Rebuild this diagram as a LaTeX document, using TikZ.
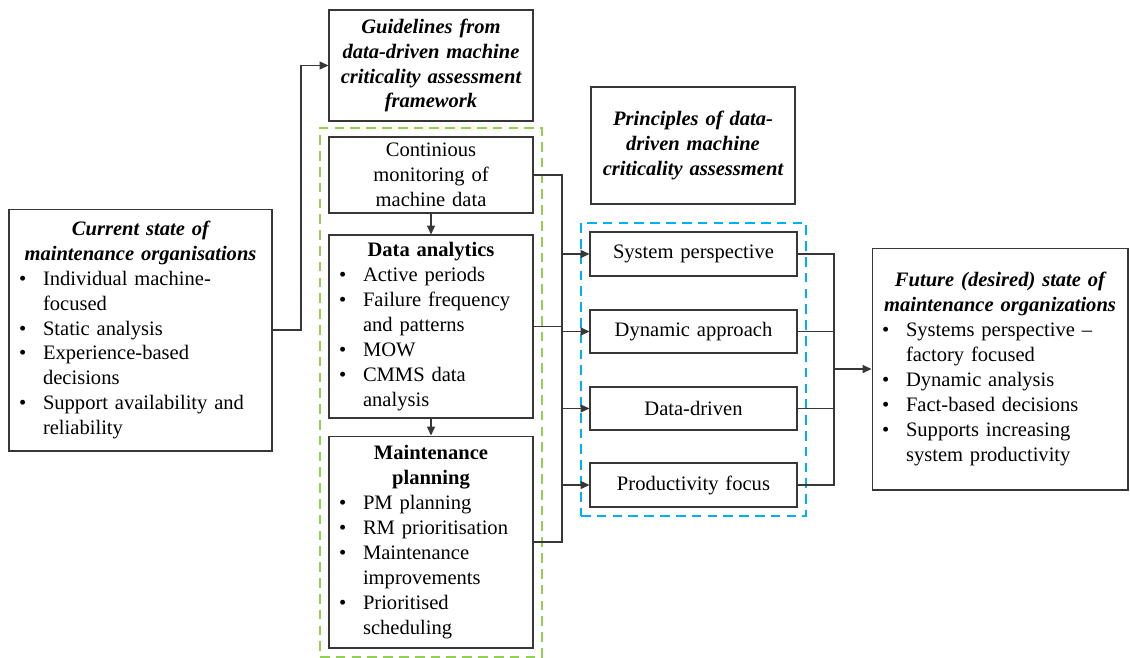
\documentclass[tikz,border=0pt]{standalone}
\usepackage{fontspec}
\setmainfont{Liberation Serif}
\usetikzlibrary{arrows.meta, positioning, fit}
\definecolor{leafgreen}{RGB}{146, 208, 80}
\definecolor{skyblue1}{RGB}{0, 176, 240}
\definecolor{edgegray}{RGB}{55, 55, 55}
\newcommand{\boxfont}{\fontsize{11.7}{14.2}\selectfont}
\newcommand{\bul}[1]{\par\hangindent=0.48cm\hangafter=1\noindent\makebox[0.48cm][l]{\textbullet}{\let\\\newline #1}\par}
\newcommand{\hd}[1]{{\centering\bfseries\itshape #1\par}}
\begin{document}
\begin{tikzpicture}[
  x=0.02cm, y=-0.02cm,
  box/.style={draw=edgegray, line width=0.6pt, fill=white, text width=#1, inner xsep=0.2cm, inner ysep=2pt, align=left, font=\boxfont},
  group/.style={draw=#1, dashed, dash pattern=on 5.5pt off 3.5pt, line width=1.6pt, inner sep=0.17cm},
  link/.style={draw=edgegray, line width=0.6pt},
  arr/.style={link, -{Triangle[length=5pt, width=4.5pt]}},
]
  \useasboundingbox (0,0) rectangle (1130,657);

  % left and middle column
  \node[box=4.86cm, minimum height=4.84cm] (cur) at (140.5,330) {
    \hd{Current state of\\ maintenance organisations}
    \bul{Individual machine-\\ focused}
    \bul{Static analysis}
    \bul{Experience-based\\ decisions}
    \bul{Support availability and\\ reliability}
  };
  \node[box=3.68cm, minimum height=2.22cm, align=center, font=\boxfont\bfseries\itshape] (guide) at (431,65.5) {
    Guidelines from\\ data-driven machine\\ criticality assessment\\ framework
  };
  \node[box=3.68cm, minimum height=1.52cm, align=center] (mon) at (431,175) {
    Continious\\ monitoring of\\ machine data
  };
  \node[box=3.68cm, minimum height=3.66cm] (ana) at (431,326.5) {
    {\centering\bfseries Data analytics\par}
    \bul{Active periods}
    \bul{Failure frequency\\ and patterns}
    \bul{MOW}
    \bul{CMMS data\\ analysis}
  };
  \node[box=3.68cm, minimum height=4.24cm] (plan) at (431,542) {
    {\centering\bfseries Maintenance\\ planning\par}
    \bul{PM planning}
    \bul{RM prioritisation}
    \bul{Maintenance\\ improvements}
    \bul{Prioritised\\ scheduling}
  };
  \node[group=leafgreen, fit=(mon)(ana)(plan)] (fwgroup) {};

  % principles
  \node[box=3.68cm, minimum height=2.34cm, align=center, font=\boxfont\bfseries\itshape] (prin) at (693,145.5) {
    Principles of data-\\ driven machine\\ criticality assessment
  };
  \node[box=3.74cm, minimum height=0.88cm, align=center] (sys) at (693.5,254) {System perspective};
  \node[box=3.74cm, minimum height=0.86cm, align=center] (dyn) at (693.5,331.5) {Dynamic approach};
  \node[box=3.74cm, minimum height=0.86cm, align=center] (dat) at (693.5,408.5) {Data-driven};
  \node[box=3.74cm, minimum height=0.88cm, align=center] (prod) at (693.5,485) {Productivity focus};
  \node[group=skyblue1, fit=(sys)(prod)] (prgroup) {};

  \node[box=4.72cm, minimum height=4.84cm] (fut) at (1000,369) {
    \hd{Future (desired) state of\\ maintenance organizations}
    \bul{Systems perspective --\\ factory focused}
    \bul{Dynamic analysis}
    \bul{Fact-based decisions}
    \bul{Supports increasing\\ system productivity}
  };

  % connectors
  \coordinate (busA) at (301,0);
  \coordinate (busL) at (562,0);
  \coordinate (busR) at (834,0);
  \draw[arr] (cur.east) -- (cur.east -| busA) -- (guide.west -| busA) -- (guide.west);
  \draw[arr] (mon) -- (ana);
  \draw[arr] (ana) -- (plan);
  \draw[link] (mon.east) -- (mon.east -| busL) -- (plan.east -| busL) -- (plan.east);
  \draw[link] (ana.east) -- (ana.east -| busL);
  \foreach \p in {sys, dyn, dat, prod}
    \draw[arr] (\p.west -| busL) -- (\p.west);
  \draw[link] (sys.east) -- (sys.east -| busR) -- (prod.east -| busR) -- (prod.east);
  \draw[link] (dyn.east) -- (dyn.east -| busR);
  \draw[link] (dat.east) -- (dat.east -| busR);
  \draw[arr] (fut.west -| busR) -- (fut.west);
\end{tikzpicture}
\end{document}
